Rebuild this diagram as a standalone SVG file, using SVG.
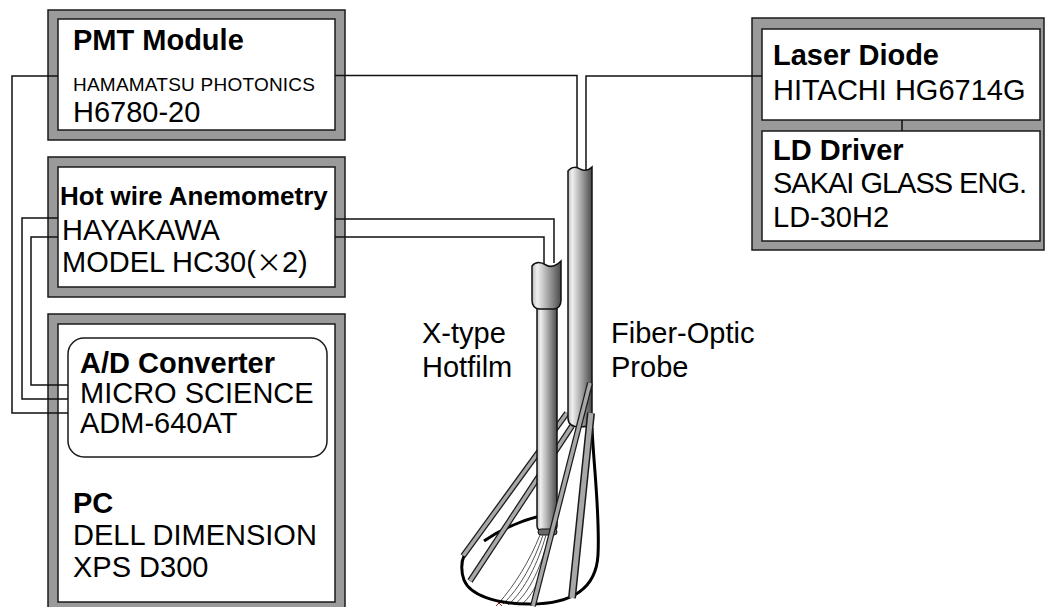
<svg xmlns="http://www.w3.org/2000/svg" width="1045" height="607" viewBox="0 0 1045 607">
  <defs>
    <style>
      .frame{fill:#9a9a9a;stroke:#1a1a1a;stroke-width:1.5}
      .panel{fill:#fff;stroke:#1a1a1a;stroke-width:1.5}
      .t{font-family:"Liberation Sans",Arial,sans-serif;font-size:29px;fill:#000}
      .b{font-weight:bold}
      .wire{fill:none;stroke:#111;stroke-width:1.5}
      .tube{fill:url(#tubeGrad);stroke:#111;stroke-width:1.5}
      .rodEdge{stroke:#1a1a1a;stroke-width:6;stroke-linecap:butt}
      .rodCore{stroke:#a8a8a8;stroke-width:3.5;stroke-linecap:butt}
      .ring{fill:none;stroke:#000;stroke-width:3}
      .fine{stroke:#555;stroke-width:1;fill:none}
    </style>
    <linearGradient id="tubeGrad" x1="0" y1="0" x2="1" y2="0">
      <stop offset="0" stop-color="#bdbdbd"/>
      <stop offset="0.18" stop-color="#efefef"/>
      <stop offset="0.55" stop-color="#a6a6a6"/>
      <stop offset="1" stop-color="#4a4a4a"/>
    </linearGradient>
  </defs>

  <!-- PMT module -->
  <g id="pmt">
    <rect class="frame" x="48" y="10" width="297" height="130"/>
    <rect class="panel" x="58" y="19" width="277" height="111"/>
    <text class="t b" x="73" y="50">PMT Module</text>
    <text class="t" x="73" y="91" style="font-size:19px" textLength="242">HAMAMATSU PHOTONICS</text>
    <text class="t" x="73" y="122">H6780-20</text>
  </g>

  <!-- hot wire anemometer -->
  <g id="hotwire">
    <rect class="frame" x="48" y="157" width="297" height="140"/>
    <rect class="panel" x="58" y="167" width="277" height="120"/>
    <text class="t b" x="60" y="205" style="font-size:26px">Hot wire Anemometry</text>
    <text class="t" x="62" y="240">HAYAKAWA</text>
    <text class="t" x="62" y="272">MODEL HC30(<tspan style="font-family:'Noto Sans CJK JP',sans-serif;font-size:26px">×</tspan>2)</text>
  </g>

  <!-- PC with A/D converter -->
  <g id="pc">
    <rect class="frame" x="48" y="314" width="297" height="298"/>
    <rect class="panel" x="58" y="324" width="277" height="278"/>
    <text class="t b" x="73" y="513">PC</text>
    <text class="t" x="73" y="545">DELL DIMENSION</text>
    <text class="t" x="73" y="577">XPS D300</text>
  </g>
  <g id="adc">
    <rect class="panel" x="68" y="338" width="259" height="119" rx="16" ry="16"/>
    <text class="t b" x="80" y="373">A/D Converter</text>
    <text class="t" x="80" y="403">MICRO SCIENCE</text>
    <text class="t" x="80" y="433">ADM-640AT</text>
  </g>

  <!-- laser diode and driver -->
  <g id="laser">
    <rect class="frame" x="752" y="18" width="292" height="232"/>
    <rect class="panel" x="762" y="29" width="278" height="91"/>
    <text class="t b" x="773" y="65">Laser Diode</text>
    <text class="t" x="773" y="100">HITACHI HG6714G</text>
  </g>
  <g id="lddriver">
    <rect class="panel" x="762" y="131" width="278" height="110"/>
    <text class="t b" x="773" y="160">LD Driver</text>
    <text class="t" x="773" y="193" textLength="254">SAKAI GLASS ENG.</text>
    <text class="t" x="773" y="227">LD-30H2</text>
  </g>

  <!-- signal and fibre lines -->
  <g id="connectors">
    <path class="wire" d="M58 76 H12 V413 H68"/>
    <path class="wire" d="M58 218 H22 V399 H68"/>
    <path class="wire" d="M58 237 H31 V385 H68"/>
    <path class="wire" d="M335 75.5 H577 V169"/>
    <path class="wire" d="M762 76 H586 V170"/>
    <path class="wire" d="M335 219 H554 V263"/>
    <path class="wire" d="M335 237 H544 V265"/>
    <path class="wire" d="M902 120 V131"/>
  </g>

  <!-- probe assembly -->
  <g id="probe">
    <!-- back arc of the ring -->
    <path class="ring" d="M484 541 C500 530 520 521 540 516"/>
    <!-- prongs running behind the hot-film stem -->
    <line class="rodEdge" x1="567" y1="413" x2="463" y2="556"/>
    <line class="rodCore" x1="567" y1="413" x2="463" y2="556"/>
    <line class="rodEdge" x1="572" y1="426" x2="470" y2="581"/>
    <line class="rodCore" x1="572" y1="426" x2="470" y2="581"/>

    <!-- fibre-optic tube -->
    <path class="tube" d="M568 171 C572 166 577 167 580 169 C584 171 588 171 592 167 V426 L580 427 Q568 427 568 418 Z"/>

    <!-- hot-film sleeve and stem -->
    <path class="tube" d="M537 306 V526 Q537 532 547 532 Q557 532 557 526 V306 Z"/>
    <path class="tube" d="M532 266 C536 261 541 262 546 265 C551 268 556 266 561 261 V300 Q561 308 554 309 L539 309 Q532 308 532 300 Z"/>
    <rect x="538" y="529" width="19" height="6" rx="3" fill="#6a6a6a" stroke="#111" stroke-width="1"/>

    <!-- sensing wires -->
    <path class="fine" d="M540 535 C530 560 515 585 498 604"/>
    <path class="fine" d="M543 535 C534 562 520 588 503 604"/>
    <path class="fine" d="M546 535 C538 563 525 590 508 605"/>
    <path class="fine" d="M549 535 C542 565 530 592 514 605"/>
    <path class="fine" d="M552 535 C546 566 536 593 521 605"/>
    <path d="M496 600 L502 606 M502 600 L496 606" stroke="#8a2a2a" stroke-width="1"/>

    <!-- ring outline -->
    <path class="ring" d="M592 428 C594 470 600 515 598 555 C596 590 570 604 530 604 C495 604 470 595 464 580 C461 572 461 562 464 556"/>

    <!-- prongs in front -->
    <line class="rodEdge" x1="590" y1="383" x2="533" y2="606"/>
    <line class="rodCore" x1="590" y1="383" x2="533" y2="606"/>
    <line class="rodEdge" x1="591" y1="413" x2="572" y2="598" style="stroke-width:8"/>
    <line class="rodCore" x1="591" y1="413" x2="572" y2="598" style="stroke-width:5"/>
  </g>

  <!-- probe labels -->
  <g id="labels">
    <text class="t" x="422" y="343">X-type</text>
    <text class="t" x="422" y="377">Hotfilm</text>
    <text class="t" x="611" y="343">Fiber-Optic</text>
    <text class="t" x="611" y="377">Probe</text>
  </g>
</svg>
